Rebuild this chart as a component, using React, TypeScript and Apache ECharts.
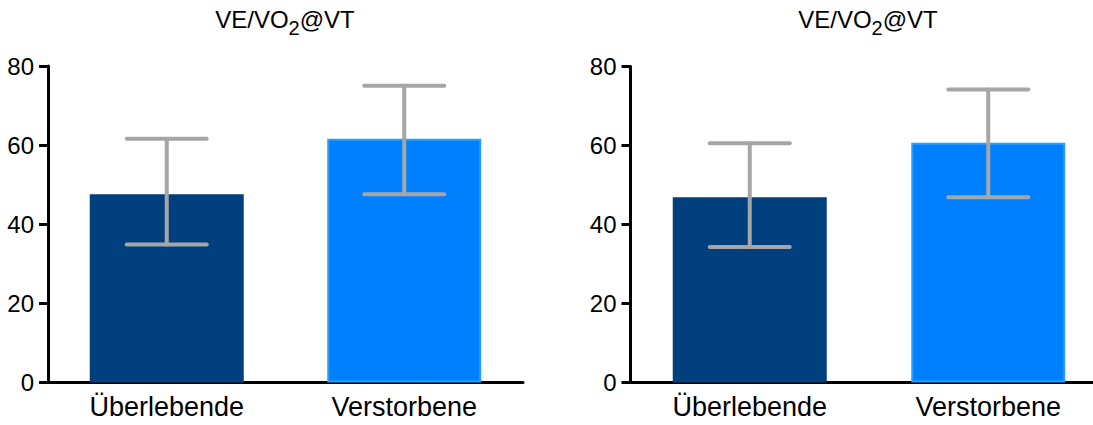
import React, { useEffect, useRef } from 'react';
import * as echarts from 'echarts';

const categories = ['Überlebende', 'Verstorbene'];
const titleMain1 = 'VE/VO';
const titleSub = '2';
const titleMain2 = '@VT';

const leftMeans = [47.6, 61.6];
const leftErrLow = [34.9, 47.6];
const leftErrHigh = [61.6, 75.0];

const rightMeans = [46.9, 60.7];
const rightErrLow = [34.3, 46.9];
const rightErrHigh = [60.6, 74.2];

const yMin = 0;
const yMax = 80;
const yInterval = 20;

const FONT = '"Liberation Sans", Arial, Helvetica, sans-serif';
const barColors = ['#023f7f', '#0080ff'];
const barBorders = ['#023f7f', '#2b9cff'];
const errColor = '#a6a6a6';

function makeErrRender() {
  return (params: any, api: any) => {
    const i = api.value(0);
    const lo = api.coord([i, api.value(1)]);
    const hi = api.coord([i, api.value(2)]);
    const hw = 40;
    const st = { stroke: errColor, lineWidth: 4, lineCap: 'round' };
    return {
      type: 'group',
      children: [
        { type: 'line', shape: { x1: lo[0], y1: lo[1], x2: hi[0], y2: hi[1] }, style: st },
        { type: 'line', shape: { x1: hi[0] - hw, y1: hi[1], x2: hi[0] + hw, y2: hi[1] }, style: st },
        { type: 'line', shape: { x1: lo[0] - hw, y1: lo[1], x2: lo[0] + hw, y2: lo[1] }, style: st },
      ],
    };
  };
}

function xAxisCfg(gridIndex: number) {
  return {
    type: 'category',
    gridIndex,
    data: categories,
    axisLine: { lineStyle: { color: '#000', width: 3 } },
    axisTick: { alignWithLabel: true, length: 9, lineStyle: { color: '#000', width: 3 } },
    axisLabel: { color: '#000', fontSize: 27, fontFamily: FONT, margin: 11 },
    splitLine: { show: false },
  };
}

function yAxisCfg(gridIndex: number) {
  return {
    type: 'value',
    gridIndex,
    min: yMin,
    max: yMax,
    interval: yInterval,
    axisLine: { show: true, lineStyle: { color: '#000', width: 3 } },
    axisTick: { show: true, length: 9, lineStyle: { color: '#000', width: 3 } },
    axisLabel: { color: '#000', fontSize: 24, fontFamily: FONT, margin: 14 },
    splitLine: { show: false },
  };
}

function barSeries(idx: number, means: number[]) {
  return {
    type: 'bar',
    xAxisIndex: idx,
    yAxisIndex: idx,
    barWidth: 154,
    data: means.map((v, i) => ({
      value: v,
      itemStyle: { color: barColors[i], borderColor: barBorders[i], borderWidth: i === 1 ? 2 : 0 },
    })),
    z: 2,
  };
}

function errSeries(idx: number, lows: number[], highs: number[]) {
  return {
    type: 'custom',
    xAxisIndex: idx,
    yAxisIndex: idx,
    renderItem: makeErrRender(),
    data: categories.map((_, i) => [i, lows[i], highs[i]]),
    encode: { x: 0, y: [1, 2] },
    z: 5,
  };
}

function titleGraphic(cx: number) {
  return {
    type: 'text',
    x: cx,
    y: 7,
    style: {
      text: `{a|${titleMain1}}{s|${titleSub}}{a|${titleMain2}}`,
      align: 'center',
      verticalAlign: 'top',
      rich: {
        a: { fontSize: 24, lineHeight: 24, fontFamily: FONT, fill: '#000', verticalAlign: 'top' },
        s: { fontSize: 20, lineHeight: 20, fontFamily: FONT, fill: '#000', verticalAlign: 'top', padding: [11, 0, 0, 0] },
      },
    },
  };
}

export default function App() {
  const ref = useRef<HTMLDivElement>(null);
  useEffect(() => {
    if (!ref.current) return;
    const chart = echarts.init(ref.current, null, { renderer: 'svg' });
    chart.setOption({
      animation: false,
      backgroundColor: '#fff',
      grid: [
        { left: 48, top: 66, width: 475, height: 316.5 },
        { left: 630.5, top: 66.5, width: 477, height: 316 },
      ],
      xAxis: [xAxisCfg(0), xAxisCfg(1)],
      yAxis: [yAxisCfg(0), yAxisCfg(1)],
      series: [
        barSeries(0, leftMeans),
        errSeries(0, leftErrLow, leftErrHigh),
        barSeries(1, rightMeans),
        errSeries(1, rightErrLow, rightErrHigh),
      ],
      graphic: [titleGraphic(285), titleGraphic(868)],
    });
    return () => chart.dispose();
  }, []);
  return (
    <div
      ref={ref}
      style={{ position: 'fixed', left: 0, top: 0, width: 1130, height: 425, background: '#fff' }}
    />
  );
}
